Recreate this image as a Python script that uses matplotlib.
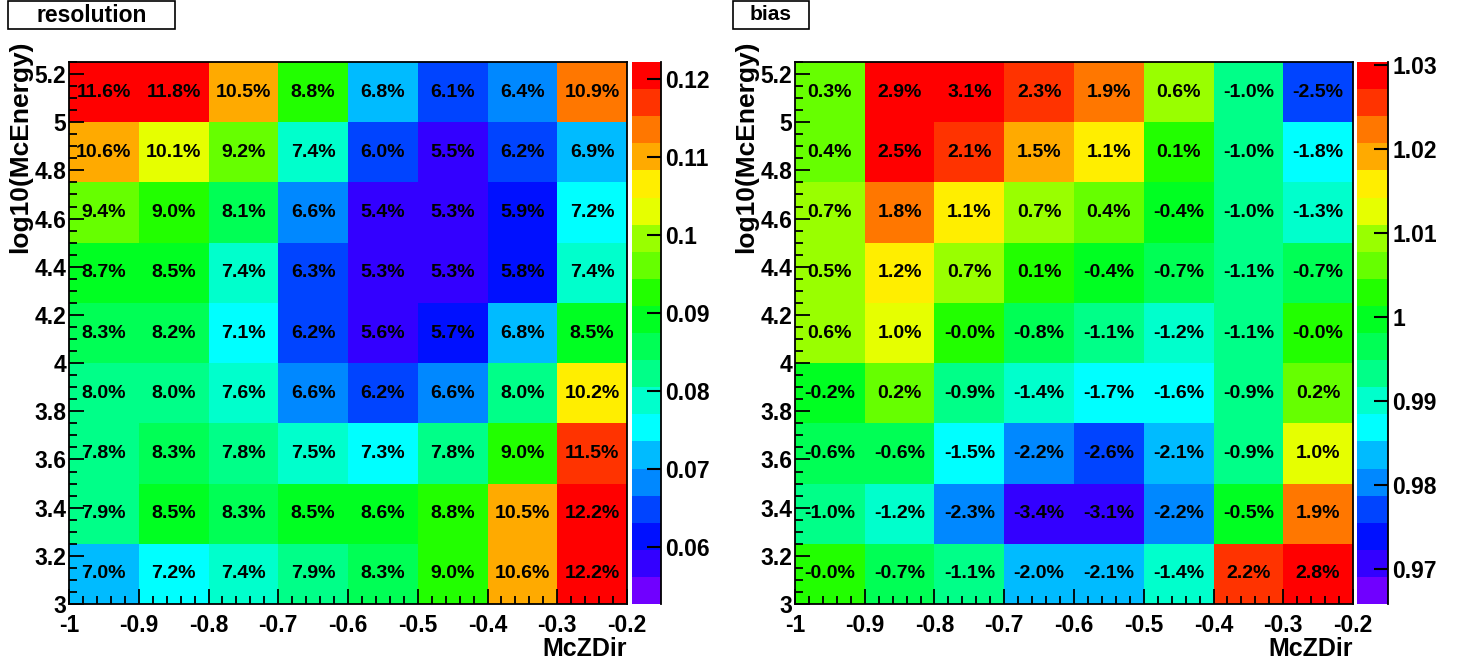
import numpy as np
import matplotlib
matplotlib.use("Agg")
import matplotlib.pyplot as plt
import matplotlib.ticker as mticker
from matplotlib.colors import ListedColormap, BoundaryNorm
from matplotlib.patches import Rectangle

plt.rcParams['font.family'] = ['Liberation Sans', 'DejaVu Sans']
plt.rcParams['font.weight'] = 'bold'

# bin edges
x_edges = np.round(np.arange(-1.0, -0.15, 0.1), 2)      # McZDir, 8 bins
y_edges = np.round(np.arange(3.0, 5.26, 0.25), 2)       # log10(McEnergy), 9 bins

# rows listed bottom (3.0-3.25) to top (5.0-5.25), values in percent
resolution_pct = [
    [7.0, 7.2, 7.4, 7.9, 8.3, 9.0, 10.6, 12.2],
    [7.9, 8.5, 8.3, 8.5, 8.6, 8.8, 10.5, 12.2],
    [7.8, 8.3, 7.8, 7.5, 7.3, 7.8, 9.0, 11.5],
    [8.0, 8.0, 7.6, 6.6, 6.2, 6.6, 8.0, 10.2],
    [8.3, 8.2, 7.1, 6.2, 5.6, 5.7, 6.8, 8.5],
    [8.7, 8.5, 7.4, 6.3, 5.3, 5.3, 5.8, 7.4],
    [9.4, 9.0, 8.1, 6.6, 5.4, 5.3, 5.9, 7.2],
    [10.6, 10.1, 9.2, 7.4, 6.0, 5.5, 6.2, 6.9],
    [11.6, 11.8, 10.5, 8.8, 6.8, 6.1, 6.4, 10.9],
]
bias_pct = [
    [-0.0, -0.7, -1.1, -2.0, -2.1, -1.4, 2.2, 2.8],
    [-1.0, -1.2, -2.3, -3.4, -3.1, -2.2, -0.5, 1.9],
    [-0.6, -0.6, -1.5, -2.2, -2.6, -2.1, -0.9, 1.0],
    [-0.2, 0.2, -0.9, -1.4, -1.7, -1.6, -0.9, 0.2],
    [0.6, 1.0, -0.0, -0.8, -1.1, -1.2, -1.1, -0.0],
    [0.5, 1.2, 0.7, 0.1, -0.4, -0.7, -1.1, -0.7],
    [0.7, 1.8, 1.1, 0.7, 0.4, -0.4, -1.0, -1.3],
    [0.4, 2.5, 2.1, 1.5, 1.1, 0.1, -1.0, -1.8],
    [0.3, 2.9, 3.1, 2.3, 1.9, 0.6, -1.0, -2.5],
]

# colour bar ranges (z axis)
res_range = (0.0527, 0.1222)
bias_range = (0.9658, 1.0303)
res_ticks = [0.06, 0.07, 0.08, 0.09, 0.1, 0.11, 0.12]
bias_ticks = [0.97, 0.98, 0.99, 1.0, 1.01, 1.02, 1.03]

# ROOT rainbow palette, 20 contours, bottom -> top
palette = ['#7000ff', '#3300ff', '#0010ff', '#0044ff', '#0088ff',
           '#00bbff', '#00ffff', '#00ffcc', '#00ff88', '#00ff55',
           '#00ff22', '#22ff00', '#66ff00', '#99ff00', '#e6ff00',
           '#ffee00', '#ffaa00', '#ff7700', '#ff3300', '#ff0000']
cmap = ListedColormap(palette)
ncont = len(palette)

fig = plt.figure(figsize=(14.6, 6.61), dpi=100)


def setup_axis(ax):
    ax.set_xlim(-1.0, -0.2)
    ax.set_ylim(3.0, 5.25)
    ax.xaxis.set_major_locator(mticker.MultipleLocator(0.1))
    ax.xaxis.set_minor_locator(mticker.MultipleLocator(0.02))
    ax.yaxis.set_major_locator(mticker.MultipleLocator(0.2))
    ax.yaxis.set_minor_locator(mticker.MultipleLocator(0.05))
    fmt = mticker.FuncFormatter(lambda v, p: '%g' % round(v, 2))
    ax.xaxis.set_major_formatter(fmt)
    ax.yaxis.set_major_formatter(fmt)
    ax.tick_params(which='both', direction='in', top=False, right=False,
                   labelsize=16.5, width=1.3)
    ax.tick_params(which='major', length=11)
    ax.tick_params(which='minor', length=5.5)
    ax.tick_params(axis='x', pad=7)
    ax.tick_params(axis='y', pad=2)
    for lbl in ax.get_xticklabels() + ax.get_yticklabels():
        lbl.set_fontweight('bold')
    for s in ax.spines.values():
        s.set_linewidth(1.3)


def draw_panel(ax_rect, cb_rect, pct, zrange, zticks, to_value, title, title_box, title_size):
    ax = fig.add_axes(ax_rect)
    zmin, zmax = zrange
    dz = (zmax - zmin) / ncont
    vals = np.array([[to_value(v) for v in row] for row in pct])
    # cell colours: ROOT picks the contour above the lower edge
    norm = BoundaryNorm(zmin + dz * (np.arange(ncont + 1) - 1), ncont, clip=True)
    ax.pcolormesh(x_edges, y_edges, vals, cmap=cmap, norm=norm)
    xc = (x_edges[:-1] + x_edges[1:]) / 2
    yc = (y_edges[:-1] + y_edges[1:]) / 2
    for j, row in enumerate(pct):
        for i, v in enumerate(row):
            ax.text(xc[i], yc[j], '%.1f%%' % v, ha='center', va='center',
                    fontsize=14, fontweight='bold', color='black')
    setup_axis(ax)
    ax.text(-0.088, 1.04, 'log10(McEnergy)', transform=ax.transAxes,
            rotation=90, ha='center', va='top', fontsize=19, fontweight='bold')
    ax.text(1.0, -0.06, 'McZDir', transform=ax.transAxes,
            ha='right', va='top', fontsize=18, fontweight='bold')

    # colour bar
    cax = fig.add_axes(cb_rect)
    levels = zmin + dz * np.arange(ncont + 1)
    cax.pcolormesh([0, 1], levels, np.arange(ncont).reshape(-1, 1),
                   cmap=cmap, vmin=-0.5, vmax=ncont - 0.5)
    cax.set_xlim(0, 1)
    cax.set_ylim(zmin, zmax)
    cax.set_xticks([])
    cax.yaxis.tick_right()
    cax.set_yticks(zticks)
    cax.yaxis.set_major_formatter(mticker.FuncFormatter(lambda v, p: '%g' % round(v, 3)))
    cax.tick_params(axis='y', direction='in', length=10, width=1.5,
                    labelsize=16.5, pad=3)
    for lbl in cax.get_yticklabels():
        lbl.set_fontweight('bold')
    for k in ['left', 'top', 'bottom']:
        cax.spines[k].set_visible(False)
    cax.spines['right'].set_linewidth(1.3)

    # title box
    bx, by, bw, bh = title_box
    fig.patches.append(Rectangle((bx, by), bw, bh, transform=fig.transFigure,
                                 facecolor='white', edgecolor='black', lw=1.2))
    fig.text(bx + bw / 2, by + bh / 2, title, ha='center', va='center',
             fontsize=title_size, fontweight='bold')


W, H = 1460.0, 661.0


def rect(x0, y0, x1, y1):
    return [x0 / W, 1 - y1 / H, (x1 - x0) / W, (y1 - y0) / H]


draw_panel(rect(69, 62, 627, 604), rect(632, 62, 661, 604),
           resolution_pct, res_range, res_ticks, lambda v: v / 100.0,
           'resolution', (8 / W, 1 - 29 / H, 167 / W, 28 / H), 16.5)
draw_panel(rect(795, 62, 1353, 604), rect(1357, 62, 1388, 604),
           bias_pct, bias_range, bias_ticks, lambda v: 1 + v / 100.0,
           'bias', (733 / W, 1 - 29 / H, 76 / W, 28 / H), 15)

fig.savefig('out.png', dpi=100)
